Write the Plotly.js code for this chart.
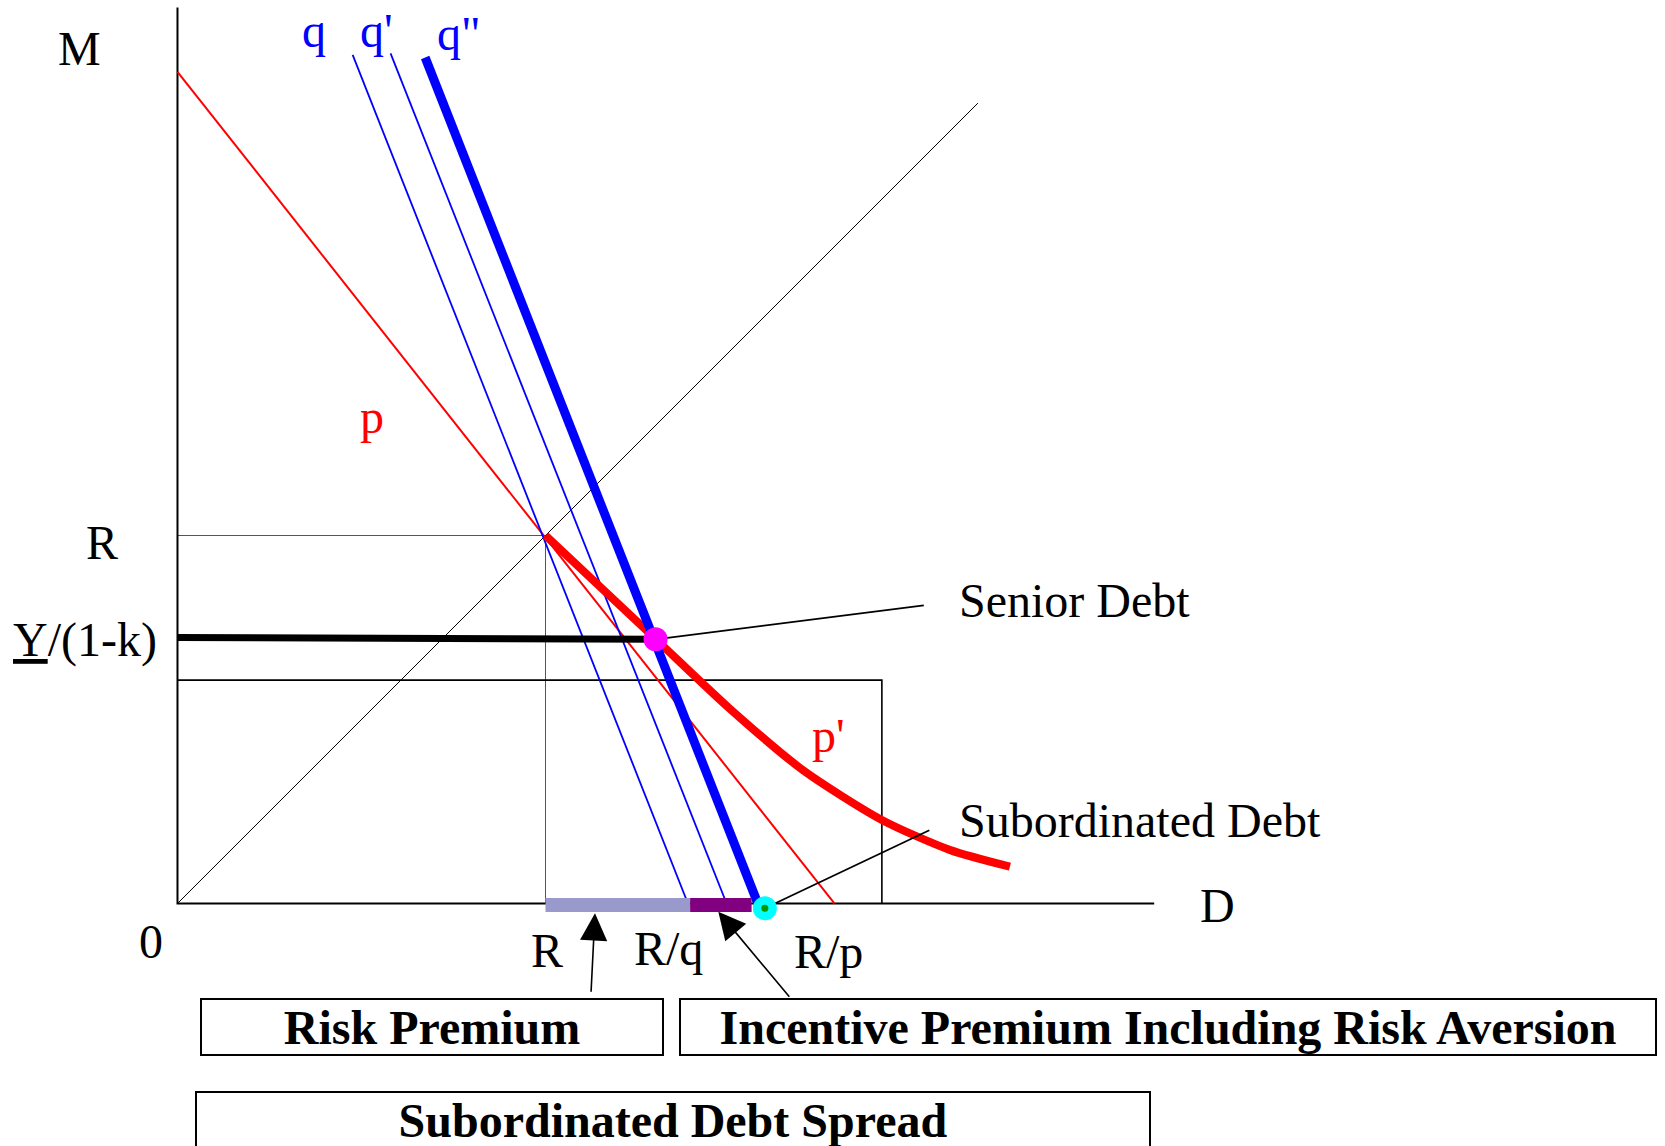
<!DOCTYPE html>
<html><head><meta charset="utf-8">
<script src="https://cdn.plot.ly/plotly-3.0.1.min.js"></script>
<style>html,body{margin:0;padding:0;background:#fff;overflow:hidden;} #chart{width:1665px;height:1146px;}</style>
</head><body><div id="chart"></div>
<script>
// ---- Diagram values (D horizontal, M vertical), R = 10 ----
const axisD = [0, 0, 26.54];
const axisM = [24.35, 0, 0];
const rGuideD = [0, 10, 10];
const rGuideM = [10, 10, 0];
const rectD = [0, 19.14, 19.14];
const rectM = [6.07, 6.07, 0];
const diagD = [0, 21.75];
const diagM = [0, 21.75];
const pD = [0, 17.85];
const pM = [22.6, 0];
const qD = [4.76, 13.87];
const qM = [23.06, 0];
const q1D = [5.79, 14.92];
const q1M = [23.10, 0];
const q2D = [6.73, 15.77];
const q2M = [22.99, 0];
const yLevelD = [0, 12.99];
const yLevelM = [7.23, 7.18];
const p1D = [10, 12.99, 15.0, 17.0, 19.14, 21.0, 22.62];
const p1M = [10, 7.19, 5.30, 3.62, 2.27, 1.45, 1.0];
const riskBarD = [10, 13.93];
const incentBarD = [13.93, 15.60];
const barM = [-0.04, -0.04];
const seniorPtD = [12.99];
const seniorPtM = [7.18];
const subPtD = [15.96];
const subPtM = [-0.13];
const seniorLeaderD = [12.99, 20.28];
const seniorLeaderM = [7.18, 8.10];
const subLeaderD = [15.96, 20.43];
const subLeaderM = [-0.13, 1.99];
const riskArrowTip = [11.345, -0.266];
const riskArrowTail = [11.236, -2.44];
const incArrowTip = [14.696, -0.223];
const incArrowTail = [16.66, -2.576];

const FONT = '"Liberation Serif", "Times New Roman", Times, serif';

function line(x, y, color, width, extra) {
  return Object.assign({type: 'scatter', mode: 'lines', x: x, y: y,
    line: {color: color, width: width}, hoverinfo: 'skip'}, extra || {});
}

const traces = [
  line(rGuideD, rGuideM, '#555555', 1),
  line(rectD, rectM, '#000000', 1.6),
  line(diagD, diagM, '#000000', 1),
  line(axisD, axisM, '#000000', 2),
  line(pD, pM, '#ff0000', 2),
  line(qD, qM, '#0000ff', 1.8),
  line(q1D, q1M, '#0000ff', 1.8),
  line(yLevelD, yLevelM, '#000000', 7),
  line(p1D, p1M, '#ff0000', 8, {line: {color: '#ff0000', width: 8, shape: 'spline', smoothing: 0.7}}),
  line(q2D, q2M, '#0000ff', 9),
  line(riskBarD, barM, '#9999cc', 14),
  line(incentBarD, barM, '#800080', 14),
  line(seniorLeaderD, seniorLeaderM, '#000000', 1.8),
  line(subLeaderD, subLeaderM, '#000000', 1.8),
  {type: 'scatter', mode: 'markers', x: seniorPtD, y: seniorPtM, hoverinfo: 'skip',
   marker: {color: '#ff00ff', size: 24, line: {width: 0}}},
  {type: 'scatter', mode: 'markers', x: subPtD, y: subPtM, hoverinfo: 'skip',
   marker: {color: '#00ffff', size: 24, line: {width: 0}}},
  {type: 'scatter', mode: 'markers', x: subPtD, y: subPtM, hoverinfo: 'skip',
   marker: {color: '#009900', size: 7, line: {width: 0}}}
];

function lbl(text, x, y, color, anchor) {
  return {text: text, x: x, y: y, xref: 'x', yref: 'y', showarrow: false,
    xanchor: anchor || 'center', yanchor: 'middle',
    font: {family: FONT, size: 48, color: color || '#000000'}};
}
function box(text, x, y, w, h) {
  return {text: '<b>' + text + '</b>', x: x, y: y, xref: 'x', yref: 'y', showarrow: false,
    xanchor: 'center', yanchor: 'middle', width: w, height: h, align: 'center', valign: 'middle',
    bordercolor: '#000000', borderwidth: 2, borderpad: 0,
    font: {family: FONT, size: 48, color: '#000000'}};
}
function arrow(tip, tail) {
  return {text: '', x: tip[0], y: tip[1], ax: tail[0], ay: tail[1],
    xref: 'x', yref: 'y', axref: 'x', ayref: 'y', showarrow: true,
    arrowhead: 2, arrowsize: 3.4, arrowwidth: 1.6, arrowcolor: '#000000', standoff: 0, startstandoff: 0};
}

const annotations = [
  lbl('M', -2.663, 23.239),
  lbl('q', 3.709, 23.734, '#0000ff'),
  lbl("q'", 5.394, 23.734, '#0000ff'),
  lbl('q"', 7.644, 23.644, '#0000ff'),
  lbl('p', 5.277, 13.228, '#ff0000'),
  lbl("p'", 17.685, 4.576, '#ff0000'),
  lbl('R', -2.06, 9.821),
  lbl('<u>Y</u>/(1-k)', -2.505, 7.147),
  lbl('0', -0.726, -1.046),
  lbl('D', 28.25, -0.0625),
  lbl('R', 10.033, -1.277),
  lbl('R/q', 13.337, -1.236),
  lbl('R/p', 17.685, -1.291),
  lbl('Senior Debt', 21.174, 8.247, '#000000', 'left'),
  lbl('Subordinated Debt', 21.177, 2.269, '#000000', 'left'),
  box('Risk Premium', 6.916, -3.361, 460, 54),
  box('Incentive Premium Including Risk Aversion', 26.902, -3.361, 974, 54),
  box('Subordinated Debt Spread', 13.465, -5.889, 952, 54),
  arrow(riskArrowTip, riskArrowTail),
  arrow(incArrowTip, incArrowTail)
];

const layout = {
  width: 1665, height: 1146,
  margin: {l: 0, r: 0, t: 0, b: 0, pad: 0},
  paper_bgcolor: '#ffffff', plot_bgcolor: '#ffffff',
  showlegend: false,
  xaxis: {range: [-4.823, 40.42], visible: false, fixedrange: true},
  yaxis: {range: [-6.590, 24.552], visible: false, fixedrange: true},
  annotations: annotations
};

Plotly.newPlot('chart', traces, layout, {staticPlot: true, displayModeBar: false});
</script>
</body></html>
